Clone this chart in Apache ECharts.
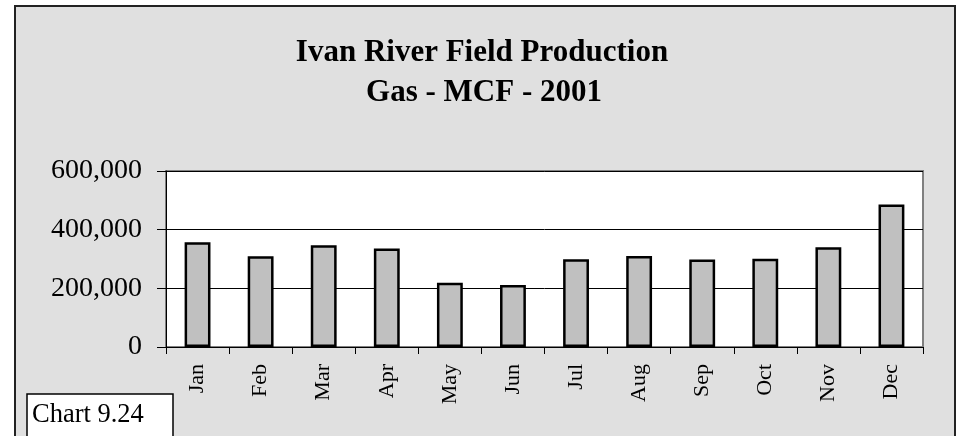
<!DOCTYPE html>
<html>
<head>
<meta charset="utf-8">
<script src="https://cdn.jsdelivr.net/npm/echarts@6/dist/echarts.min.js"></script>
<style>
html,body{margin:0;padding:0;background:#fff;}
#chart{width:964px;height:436px;}
</style>
</head>
<body>
<div id="chart"></div>
<script>
const titleLines = ['Ivan River Field Production', 'Gas - MCF - 2001'];
const months = ['Jan','Feb','Mar','Apr','May','Jun','Jul','Aug','Sep','Oct','Nov','Dec'];
const gasMCF = [357000, 309000, 347000, 336000, 219000, 211000, 299000, 310000, 298000, 301000, 340000, 486000];
const yTicks = [0, 200000, 400000, 600000];
const chartLabel = 'Chart 9.24';

const serif = '"Liberation Serif", "Times New Roman", serif';
const chart = echarts.init(document.getElementById('chart'));
chart.setOption({
  backgroundColor: '#ffffff',
  animation: false,
  graphic: [
    { type: 'rect', z: -10, shape: { x: 15, y: 6, width: 940, height: 440 },
      style: { fill: '#e0e0e0', stroke: '#222', lineWidth: 2 } },
    { type: 'text', z: 10, x: 482, y: 53,
      style: { text: titleLines[0], font: 'bold 31px ' + serif, fill: '#000', textAlign: 'center', textVerticalAlign: 'middle' } },
    { type: 'text', z: 10, x: 484, y: 93,
      style: { text: titleLines[1], font: 'bold 31px ' + serif, fill: '#000', textAlign: 'center', textVerticalAlign: 'middle' } },
    { type: 'rect', z: 10, shape: { x: 27, y: 394, width: 146, height: 50 },
      style: { fill: '#fff', stroke: '#000', lineWidth: 1.5 } },
    { type: 'text', z: 11, x: 32, y: 415,
      style: { text: chartLabel, font: '26.5px ' + serif, fill: '#000', textAlign: 'left', textVerticalAlign: 'middle' } }
  ],
  grid: {
    left: 166, top: 171, right: 41, bottom: 89,
    show: true, backgroundColor: '#ffffff', borderColor: '#808080', borderWidth: 2
  },
  xAxis: {
    type: 'category',
    data: months,
    boundaryGap: true,
    axisLine: { lineStyle: { color: '#000', width: 1 } },
    axisTick: { show: true, length: 7, lineStyle: { color: '#000' } },
    axisLabel: { rotate: 90, margin: 17, color: '#000', fontFamily: serif, fontSize: 22 }
  },
  yAxis: {
    type: 'value',
    min: yTicks[0], max: yTicks[yTicks.length - 1], interval: 200000,
    axisLine: { show: true, lineStyle: { color: '#000', width: 1 } },
    axisTick: { show: true, length: 9, lineStyle: { color: '#000' } },
    splitLine: { show: true, lineStyle: { color: '#000', width: 1 } },
    axisLabel: {
      margin: 24, color: '#000', fontFamily: serif, fontSize: 28,
      formatter: v => v.toLocaleString('en-US')
    }
  },
  series: [{
    type: 'bar',
    data: gasMCF,
    barWidth: '41%',
    itemStyle: { color: '#c0c0c0', borderColor: '#000', borderWidth: 2.5 }
  }]
});
</script>
</body>
</html>
